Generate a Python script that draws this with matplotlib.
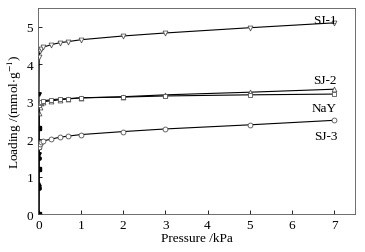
import matplotlib
matplotlib.use('Agg')
import matplotlib.pyplot as plt

plt.rcParams['font.family'] = ['Liberation Serif', 'DejaVu Serif']
plt.rcParams['mathtext.fontset'] = 'stix'

# pressure in kPa
pressao = [0.0, 0.002, 0.005, 0.01, 0.02, 0.05, 0.1, 0.3, 0.5, 0.7, 1.0, 2.0, 3.0, 5.0, 7.0]

sj1 = [0.0, 1.6, 3.2, 4.2, 4.35, 4.4, 4.45, 4.52, 4.57, 4.6, 4.65, 4.75, 4.83, 4.97, 5.1]
sj2 = [0.0, 0.8, 1.8, 2.7, 2.85, 2.95, 3.0, 3.02, 3.05, 3.07, 3.1, 3.13, 3.18, 3.25, 3.33]
nay = [0.0, 1.2, 2.3, 2.9, 2.95, 3.0, 3.02, 3.05, 3.07, 3.08, 3.1, 3.12, 3.15, 3.18, 3.2]
sj3 = [0.0, 0.7, 1.5, 1.8, 1.88, 1.92, 1.95, 2.0, 2.05, 2.08, 2.12, 2.2, 2.27, 2.38, 2.5]

series = [
    ("SJ-1", sj1, 'v', 5.1),
    ("SJ-2", sj2, '^', 3.5),
    ("NaY", nay, 's', 2.75),
    ("SJ-3", sj3, 'o', 2.0),
]

n_baixo = 3  # pontos de pressao muito baixa, desenhados pretos

fig = plt.figure(figsize=(3.65, 2.53), dpi=100)
ax = fig.add_axes([0.104, 0.15, 0.869, 0.815])

for nome, valores, marcador, y_rotulo in series:
    ax.plot(pressao, valores, color='black', linewidth=0.8)
    ax.plot(pressao[:n_baixo], valores[:n_baixo], linestyle='none', marker=marcador,
            markersize=2.5, color='black')
    ax.plot(pressao[n_baixo:], valores[n_baixo:], linestyle='none', marker=marcador,
            markersize=3.5, markerfacecolor='white', markeredgecolor='#555555',
            markeredgewidth=0.6)
    ax.text(7.07, y_rotulo, nome, ha='right', va='baseline', fontsize=9.5)

ax.set_xlim(-0.02, 7.5)
ax.set_ylim(0, 5.5)
ax.set_xticks(range(0, 8))
ax.set_yticks(range(0, 6))
ax.tick_params(direction='in', labelsize=9.5, length=3, width=0.6)
for s in ax.spines.values():
    s.set_linewidth(0.6)
    s.set_color('#555555')
ax.set_xlabel("Pressure /kPa", fontsize=9.5, labelpad=1)
ax.set_ylabel("Loading /(mmol$\\cdot$g$^{-1}$)", fontsize=9.5, labelpad=2)

fig.savefig("out.png", dpi=100)
